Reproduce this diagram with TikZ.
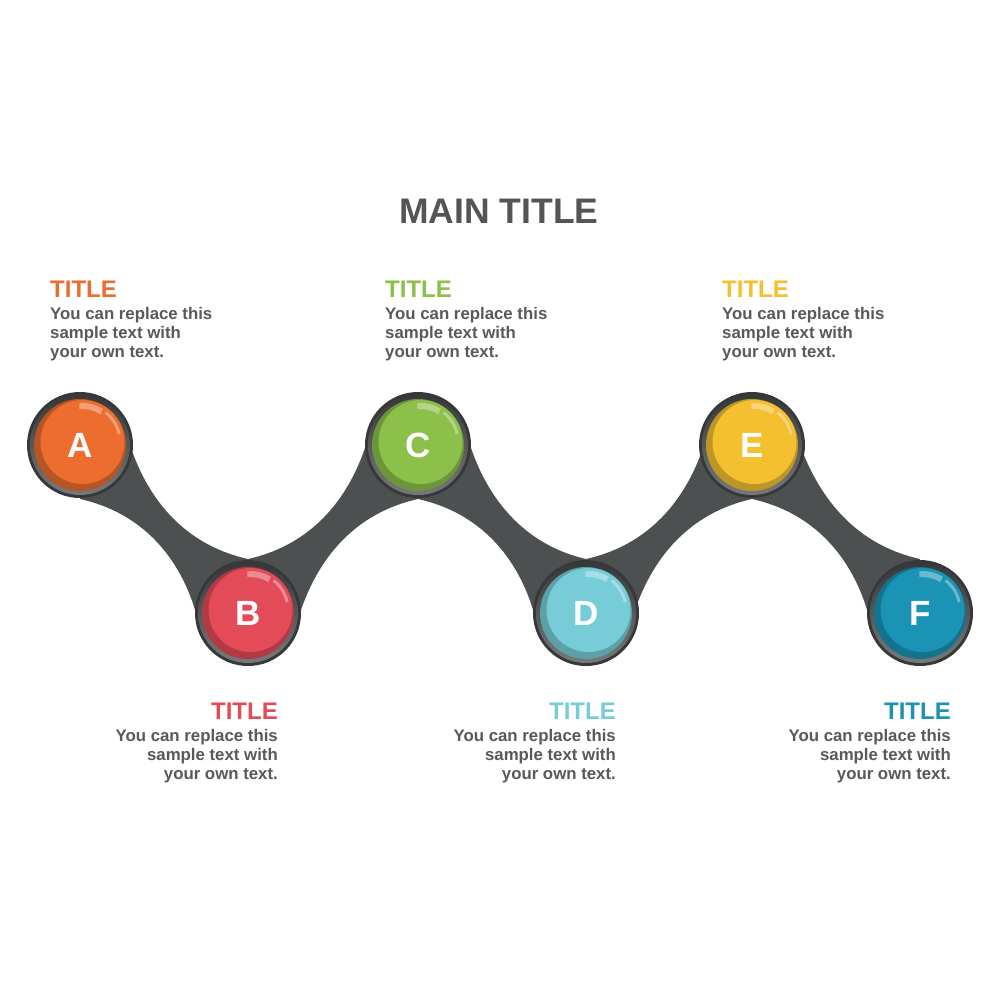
\documentclass[tikz,border=0pt]{standalone}
\usepackage{fontspec}
\setmainfont{Liberation Sans}
\usetikzlibrary{calc}
\definecolor{cA}{HTML}{EC6D2E}
\definecolor{cB}{HTML}{E44B58}
\definecolor{cC}{HTML}{8CC04A}
\definecolor{cD}{HTML}{76CDD7}
\definecolor{cE}{HTML}{F4C030}
\definecolor{cF}{HTML}{1A93B5}
\definecolor{ribbon}{HTML}{4D5051}
\definecolor{ringdark}{HTML}{37383A}
\definecolor{ringgray}{HTML}{777879}
\definecolor{bodygray}{HTML}{58595B}
\definecolor{maingray}{HTML}{555555}
\newcommand{\mybubble}[4]{%
  \fill[ringdark] (#2) circle (53pt);
  \shade[top color=ringdark, bottom color=ringgray] (#2) circle (50pt);
  \fill[#3!78!black] (#2) circle (46pt);
  \fill[#3] ($(#2)+(2.5,-3)$) circle (42pt);
  \draw[white, opacity=.35, line width=6pt] ($(#2)+(2.5,-3)+(95:36pt)$) arc[start angle=95, end angle=58, radius=36pt];
  \draw[white, opacity=.35, line width=3pt] ($(#2)+(2.5,-3)+(52:37.5pt)$) arc[start angle=52, end angle=12, radius=37.5pt];
  \node[letter] (#1) at (#2) {#4};
}
\tikzset{
  letter/.style={text=white, font=\bfseries\fontsize{35}{35}\selectfont, inner sep=0},
  maintitle/.style={text=maingray, font=\bfseries\fontsize{35.5}{35.5}\selectfont, inner sep=0},
  ttl/.style={font=\bfseries\fontsize{24}{24}\selectfont, inner sep=0},
  body/.style={text=bodygray, font=\bfseries\fontsize{16.8}{19}\selectfont, inner sep=0},
}
\begin{document}
\begin{tikzpicture}[x=1pt,y=-1pt]
\useasboundingbox (0,0) rectangle (1000,1000);
\fill[white] (0,0) rectangle (1000,1000);
% ribbon
\fill[ribbon] (80,445) -- (130,445)
  .. controls (148,500) and (185,545) .. (248,559)
  .. controls (311,545) and (348,500) .. (366,445)
  -- (470,445)
  .. controls (488,500) and (525,545) .. (586,559)
  .. controls (649,545) and (686,500) .. (704,445)
  -- (800,445)
  .. controls (820,500) and (857,545) .. (920,559)
  -- (920,613) -- (868,613)
  .. controls (852,558) and (815,513) .. (752,499)
  .. controls (689,513) and (652,558) .. (634,613)
  -- (534,613)
  .. controls (518,558) and (481,513) .. (418,499)
  .. controls (355,513) and (318,558) .. (300,613)
  -- (196,613)
  .. controls (180,558) and (143,513) .. (80,499) -- cycle;
% bubbles
\mybubble{A}{80,445}{cA}{A}
\mybubble{B}{248,613}{cB}{B}
\mybubble{C}{418,445}{cC}{C}
\mybubble{D}{586,613}{cD}{D}
\mybubble{E}{752,445}{cE}{E}
\mybubble{F}{920,613}{cF}{F}
% main title
\node[maintitle, anchor=base] (main) at (499,223) {MAIN TITLE};
% top texts (base anchor = last line)
\node[ttl, text=cA, anchor=base west] (tA) at (50,297) {TITLE};
\node[body, anchor=base west, align=left] (dA) at (50,357) {You can replace this\\sample text with\\your own text.};
\node[ttl, text=cC, anchor=base west] (tC) at (385,297) {TITLE};
\node[body, anchor=base west, align=left] (dC) at (385,357) {You can replace this\\sample text with\\your own text.};
\node[ttl, text=cE, anchor=base west] (tE) at (722,297) {TITLE};
\node[body, anchor=base west, align=left] (dE) at (722,357) {You can replace this\\sample text with\\your own text.};
% bottom texts
\node[ttl, text=cB, anchor=base east] (tB) at (278,719) {TITLE};
\node[body, anchor=base east, align=right] (dB) at (278,779) {You can replace this\\sample text with\\your own text.};
\node[ttl, text=cD, anchor=base east] (tD) at (616,719) {TITLE};
\node[body, anchor=base east, align=right] (dD) at (616,779) {You can replace this\\sample text with\\your own text.};
\node[ttl, text=cF, anchor=base east] (tF) at (951,719) {TITLE};
\node[body, anchor=base east, align=right] (dF) at (951,779) {You can replace this\\sample text with\\your own text.};
\end{tikzpicture}
\end{document}
